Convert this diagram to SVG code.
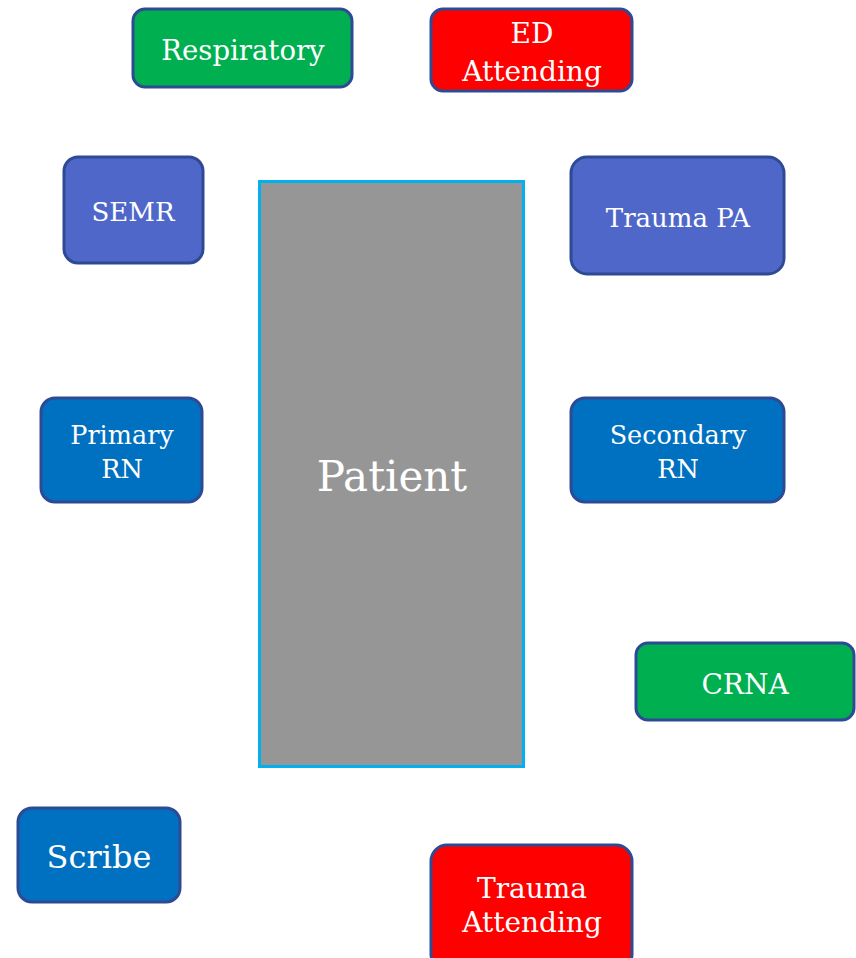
<svg xmlns="http://www.w3.org/2000/svg" width="856" height="958" viewBox="0 0 856 958">
<style>
.box{stroke:#2F4A94;stroke-width:3}
.g{fill:#00B050}.r{fill:#FF0000}.p{fill:#4F67C8}.b{fill:#0070C0}
text{font-family:"DejaVu Serif","Liberation Serif",serif;fill:#FFFFFF;text-anchor:middle}
.t{font-size:26px}
.l{font-size:28px}
</style>
<rect width="856" height="958" fill="#FFFFFF"/>
<g id="patient">
<rect x="259.5" y="181.5" width="264" height="585" fill="#969696" stroke="#00B0F0" stroke-width="3"/>
<text x="392" y="491" style="font-size:42px">Patient</text>
</g>
<g id="respiratory">
<rect class="box g" x="133" y="9" width="219" height="78" rx="12"/>
<text x="243" y="60" style="font-size:27.5px">Respiratory</text>
</g>
<g id="ed-attending">
<rect class="box r" x="431" y="9" width="201" height="82" rx="12"/>
<text class="l" x="532" y="43">ED</text>
<text class="l" x="532" y="81">Attending</text>
</g>
<g id="semr">
<rect class="box p" x="64" y="157" width="139" height="106" rx="14"/>
<text class="t" x="133" y="221">SEMR</text>
</g>
<g id="trauma-pa">
<rect class="box p" x="571" y="157" width="213" height="117" rx="16"/>
<text class="t" x="678" y="227">Trauma PA</text>
</g>
<g id="primary-rn">
<rect class="box b" x="41" y="398" width="161" height="104" rx="14"/>
<text x="122" y="444" style="font-size:25.5px">Primary</text>
<text x="122" y="478" style="font-size:25.5px">RN</text>
</g>
<g id="secondary-rn">
<rect class="box b" x="571" y="398" width="213" height="104" rx="14"/>
<text x="678" y="444" style="font-size:25.5px">Secondary</text>
<text x="678" y="478" style="font-size:25.5px">RN</text>
</g>
<g id="crna">
<rect class="box g" x="636" y="643" width="218" height="77" rx="12"/>
<text class="l" x="745" y="694">CRNA</text>
</g>
<g id="scribe">
<rect class="box b" x="18" y="808" width="162" height="94" rx="14"/>
<text x="99" y="868" style="font-size:32px">Scribe</text>
</g>
<g id="trauma-attending">
<rect class="box r" x="431" y="845" width="201" height="125" rx="16"/>
<text class="l" x="532" y="898">Trauma</text>
<text class="l" x="532" y="932">Attending</text>
</g>
<g id="connectors"></g>
</svg>
